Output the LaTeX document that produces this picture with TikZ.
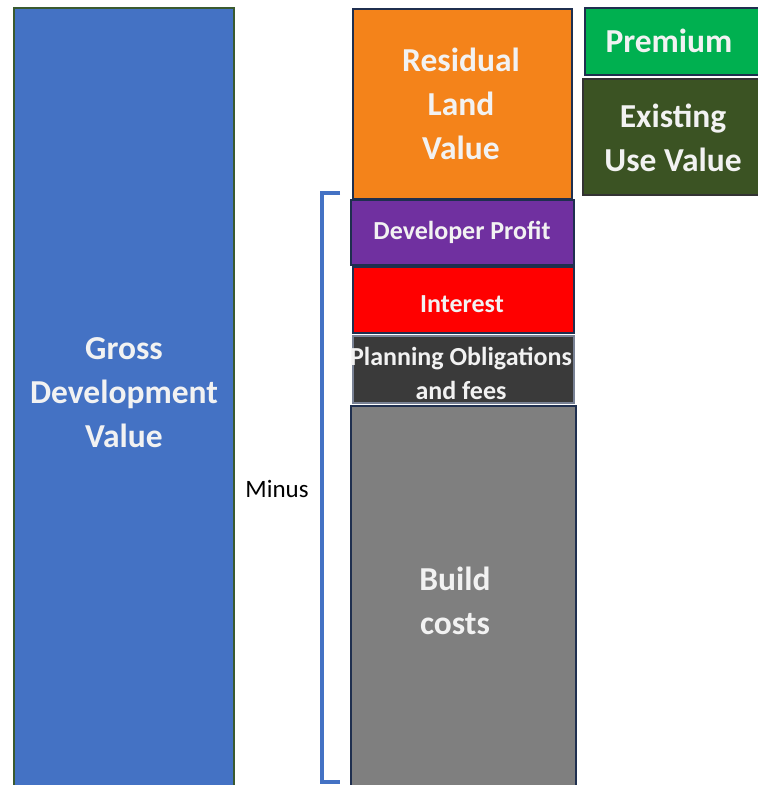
\documentclass[tikz,border=0pt]{standalone}
\usepackage{fontspec}
\setmainfont{Carlito}
\definecolor{gdvblue}{HTML}{4472C4}
\definecolor{rlvorange}{HTML}{F4831A}
\definecolor{premgreen}{HTML}{00B050}
\definecolor{euvgreen}{HTML}{3B5323}
\definecolor{profpurple}{HTML}{7030A0}
\definecolor{intred}{HTML}{FF0000}
\definecolor{plandark}{HTML}{3A3A3A}
\definecolor{buildgrey}{HTML}{7F7F7F}
\definecolor{boxedge}{HTML}{1F2F4F}
\definecolor{gdvedge}{HTML}{3A5A30}
\definecolor{txtwhite}{HTML}{F2F2F2}
\definecolor{brackblue}{HTML}{4472C4}
\begin{document}
\begin{tikzpicture}[x=1pt,y=-1pt,
  blk/.style={draw=boxedge, line width=1.5pt, inner sep=0pt, text=txtwhite, align=center},
  big/.style={font=\bfseries\fontsize{33.5}{44}\selectfont},
  small/.style={font=\bfseries\fontsize{26}{34}\selectfont}]
\useasboundingbox (0,0) rectangle (758,785);
\fill[white] (0,0) rectangle (758,785);
% Gross development value
\node[blk, fill=gdvblue, draw=gdvedge, minimum width=220pt, minimum height=790pt, anchor=north west] (gdv) at (13,7) {};
\node[text=txtwhite, align=center, big] (gdvt) at (124,393) {Gross\\Development\\Value};
% Residual land value
\node[blk, fill=rlvorange, minimum width=219pt, minimum height=190pt, anchor=north west] (rlv) at (352,8) {};
\node[text=txtwhite, align=center, big] (rlvt) at (461,104) {Residual\\Land\\Value};
% Premium
\node[blk, fill=premgreen, minimum width=190pt, minimum height=67pt, anchor=north west] (prem) at (584,7) {};
\node[text=txtwhite, big] (premt) at (669,41) {Premium};
% Existing use value
\node[blk, fill=euvgreen, draw=black!80, minimum width=190pt, minimum height=116pt, anchor=north west] (euv) at (582,78) {};
\node[text=txtwhite, align=center, big] (euvt) at (673,138) {Existing\\Use Value};
% Developer profit
\node[blk, fill=profpurple, minimum width=223pt, minimum height=65pt, anchor=north west] (prof) at (350,199) {};
\node[text=txtwhite, small] (proft) at (462,232) {Developer Profit};
% Interest
\node[blk, fill=intred, minimum width=221pt, minimum height=66pt, anchor=north west] (int) at (352,266) {};
\node[text=txtwhite, small] (intt) at (462,304) {Interest};
% Planning obligations
\node[blk, fill=plandark, draw=boxedge!60, minimum width=221pt, minimum height=67pt, anchor=north west] (plan) at (352,335) {};
\node[text=txtwhite, align=center, small] (plant) at (461,373) {Planning Obligations\\and fees};
% Build costs
\node[blk, fill=buildgrey, minimum width=225pt, minimum height=390pt, anchor=north west] (build) at (350,405) {};
\node[text=txtwhite, align=center, big] (buildt) at (455,601) {Build\\costs};
% bracket
\coordinate (bt) at (340,193);
\coordinate (btc) at (322,193);
\coordinate (bbc) at (322,782);
\coordinate (bb) at (340,782);
\draw[brackblue, line width=3.5pt] (bt) -- (btc) -- (bbc) -- (bb);
\node[font=\fontsize{25}{30}\selectfont, text=black] (minus) at (277,489) {Minus};
\end{tikzpicture}
\end{document}
